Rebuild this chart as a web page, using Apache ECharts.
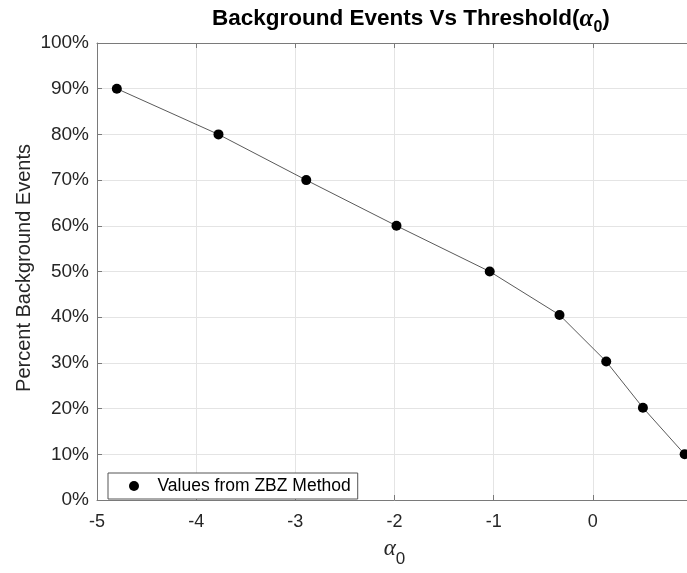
<!DOCTYPE html>
<html>
<head>
<meta charset="utf-8">
<script src="https://cdn.jsdelivr.net/npm/echarts@6/dist/echarts.min.js"></script>
<style>
  html, body { margin: 0; padding: 0; background: #fff; overflow: hidden; }
  #chart { width: 692px; height: 573px; }
</style>
</head>
<body>
<div id="chart"></div>
<script>
// Threshold alpha_0 and the share of background events kept at that threshold
const alphaValues = [-4.80, -3.775, -2.89, -1.98, -1.04, -0.336, 0.135, 0.505, 0.926];
const percentBackground = [90, 80, 70, 60, 50, 40.5, 30.3, 20.2, 10];
const seriesName = 'Values from ZBZ Method';
const yAxisTitle = 'Percent Background Events';

const points = alphaValues.map((a, i) => [a, percentBackground[i]]);

const axisGray = '#7a7a7a';
const textDark = '#262626';
const gridGray = '#e4e4e4';
const sans = '"Liberation Sans", Arial, Helvetica, sans-serif';
const serif = '"Liberation Serif", "DejaVu Serif", serif';

const chart = echarts.init(document.getElementById('chart'), null, { renderer: 'canvas' });

chart.setOption({
  backgroundColor: '#ffffff',
  animation: false,
  title: {
    text: '{b|Background Events Vs Threshold(}{a|α}{s|0}{b|)}',
    left: 207,
    top: 2,
    textStyle: {
      rich: {
        b: { fontFamily: sans, fontWeight: 'bold', fontSize: 22.5, color: '#000', lineHeight: 28, verticalAlign: 'top' },
        a: { fontFamily: serif, fontStyle: 'italic', fontSize: 25, color: '#000', lineHeight: 28, verticalAlign: 'top' },
        s: { fontFamily: sans, fontWeight: 'bold', fontSize: 16, color: '#000', lineHeight: 16, padding: [13, 0, 0, 0], verticalAlign: 'top' }
      }
    }
  },
  legend: {
    left: 108,
    top: 473,
    orient: 'horizontal',
    data: [{ name: seriesName, icon: 'circle' }],
    itemHeight: 10,
    padding: [4, 7, 4, 21],
    backgroundColor: '#ffffff',
    borderColor: '#555',
    borderWidth: 1,
    borderRadius: 0,
    textStyle: { fontFamily: sans, fontSize: 17.5, color: '#000', padding: [0, 0, 0, 6] }
  },
  grid: { left: 97, top: 43, width: 595, height: 467, containLabel: false },
  xAxis: [
    {
      type: 'value',
      min: -5,
      max: 1,
      interval: 1,
      position: 'bottom',
      name: '{a|α}{s|0}',
      nameLocation: 'middle',
      nameGap: 37,
      nameTextStyle: {
        rich: {
          a: { fontFamily: serif, fontStyle: 'italic', fontSize: 23, color: textDark, lineHeight: 28, verticalAlign: 'top' },
          s: { fontFamily: sans, fontSize: 17, color: textDark, lineHeight: 17, padding: [14, 0, 0, 0], verticalAlign: 'top' }
        }
      },
      axisLine: { show: true, onZero: false, lineStyle: { color: axisGray, width: 1 } },
      axisTick: { show: true, inside: true, length: 5, lineStyle: { color: axisGray } },
      axisLabel: { show: true, margin: 13, color: textDark, fontFamily: sans, fontSize: 18, showMaxLabel: false },
      splitLine: { show: true, lineStyle: { color: gridGray, width: 1 } }
    },
    {
      type: 'value',
      min: -5,
      max: 1,
      interval: 1,
      position: 'top',
      axisLine: { show: true, onZero: false, lineStyle: { color: axisGray, width: 1 } },
      axisTick: { show: true, inside: true, length: 5, lineStyle: { color: axisGray } },
      axisLabel: { show: false },
      splitLine: { show: false }
    }
  ],
  yAxis: [
    {
      type: 'value',
      min: 0,
      max: 100,
      interval: 10,
      position: 'left',
      axisLine: { show: true, onZero: false, lineStyle: { color: axisGray, width: 1 } },
      axisTick: { show: true, inside: true, length: 5, lineStyle: { color: axisGray } },
      axisLabel: { show: true, margin: 8, color: textDark, fontFamily: sans, fontSize: 19, formatter: '{value}%' },
      splitLine: { show: true, lineStyle: { color: gridGray, width: 1 } }
    },
    {
      type: 'value',
      min: 0,
      max: 100,
      interval: 10,
      position: 'right',
      axisLine: { show: true, onZero: false, lineStyle: { color: axisGray, width: 1 } },
      axisTick: { show: true, inside: true, length: 5, lineStyle: { color: axisGray } },
      axisLabel: { show: false },
      splitLine: { show: false }
    }
  ],
  graphic: [
    {
      type: 'text',
      x: 24,
      y: 268,
      rotation: Math.PI / 2,
      style: {
        text: yAxisTitle,
        fontFamily: sans,
        fontSize: 20,
        fill: textDark,
        align: 'center',
        verticalAlign: 'middle'
      }
    }
  ],
  series: [
    {
      name: seriesName,
      type: 'line',
      xAxisIndex: 0,
      yAxisIndex: 0,
      data: points,
      symbol: 'circle',
      symbolSize: 10,
      showSymbol: true,
      lineStyle: { color: '#5a5a5a', width: 1 },
      itemStyle: { color: '#000', borderWidth: 0 },
      emphasis: { disabled: true },
      z: 3
    }
  ]
});
</script>
</body>
</html>
